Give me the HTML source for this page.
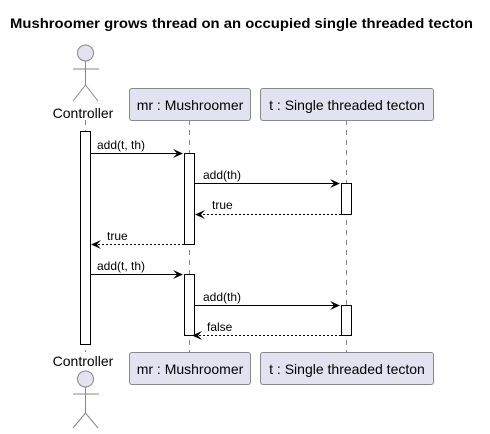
<!DOCTYPE html>
<html><head><meta charset="utf-8"><style>body{margin:0;background:#fff}svg{display:block}</style></head><body>
<svg width="490" height="434" viewBox="0 0 490 434" xmlns="http://www.w3.org/2000/svg" font-family="Liberation Sans, sans-serif">
<text x="10" y="28" font-size="14" font-weight="bold" textLength="463" lengthAdjust="spacingAndGlyphs">Mushroomer grows thread on an occupied single threaded tecton</text>
<g stroke="#888" stroke-width="1" stroke-dasharray="5,5" fill="none">
<line x1="85.5" y1="120" x2="85.5" y2="352"/>
<line x1="189.5" y1="120" x2="189.5" y2="352"/>
<line x1="346.5" y1="120" x2="346.5" y2="352"/>
</g>
<g fill="#E2E2F0" stroke="#888" stroke-width="1">
<circle cx="85.5" cy="53" r="8"/>
<circle cx="85.5" cy="379" r="8"/>
<rect x="129.5" y="88.5" width="121" height="32" rx="2.5"/>
<rect x="260.5" y="88.5" width="173" height="32" rx="2.5"/>
<rect x="129.5" y="352.5" width="121" height="32" rx="2.5"/>
<rect x="260.5" y="352.5" width="173" height="32" rx="2.5"/>
</g>
<g stroke="#888" stroke-width="1" fill="none">
<path d="M85.5 61V85M73 69H99M85.5 85L73 101M85.5 85L98 101"/>
<path d="M85.5 387V413M73 394H99M85.5 413L73 428M85.5 413L98 428"/>
</g>
<g font-size="14" fill="#000" text-anchor="middle">
<text x="83" y="118">Controller</text>
<text x="83" y="366">Controller</text>
<text x="190" y="110">mr : Mushroomer</text>
<text x="347" y="110">t : Single threaded tecton</text>
<text x="190" y="374">mr : Mushroomer</text>
<text x="347" y="374">t : Single threaded tecton</text>
</g>
<g fill="#fff" stroke="#000" stroke-width="1">
<rect x="80.5" y="131.5" width="10" height="213"/>
<rect x="184.5" y="153.5" width="10" height="91"/>
<rect x="341.5" y="183.5" width="10" height="31"/>
<rect x="184.5" y="274.5" width="10" height="61"/>
<rect x="341.5" y="305.5" width="10" height="30"/>
</g>
<g stroke="#000" stroke-width="1" fill="none">
<line x1="91" y1="153.5" x2="182" y2="153.5"/>
<line x1="195" y1="183.5" x2="339" y2="183.5"/>
<line x1="341" y1="214.5" x2="196" y2="214.5" stroke-dasharray="2,2"/>
<line x1="184" y1="244.5" x2="93" y2="244.5" stroke-dasharray="2,2"/>
<line x1="91" y1="274.5" x2="182" y2="274.5"/>
<line x1="195" y1="305.5" x2="339" y2="305.5"/>
<line x1="341" y1="335.5" x2="196" y2="335.5" stroke-dasharray="2,2"/>
</g>
<g fill="#000">
<path d="M183 153.5L173 149L177 153.5L173 158Z"/>
<path d="M340 183.5L330 179L334 183.5L330 188Z"/>
<path d="M195 214.5L205 210L201 214.5L205 219Z"/>
<path d="M91 244.5L101 240L97 244.5L101 249Z"/>
<path d="M183 274.5L173 270L177 274.5L173 279Z"/>
<path d="M340 305.5L330 301L334 305.5L330 310Z"/>
<path d="M192 335.5L202 331L198 335.5L202 340Z"/>
</g>
<g font-size="12" fill="#000">
<text x="97" y="149">add(t, th)</text>
<text x="203" y="179">add(th)</text>
<text x="212" y="209">true</text>
<text x="107" y="240">true</text>
<text x="97" y="270">add(t, th)</text>
<text x="203" y="301">add(th)</text>
<text x="207" y="331">false</text>
</g>
</svg>
</body></html>
